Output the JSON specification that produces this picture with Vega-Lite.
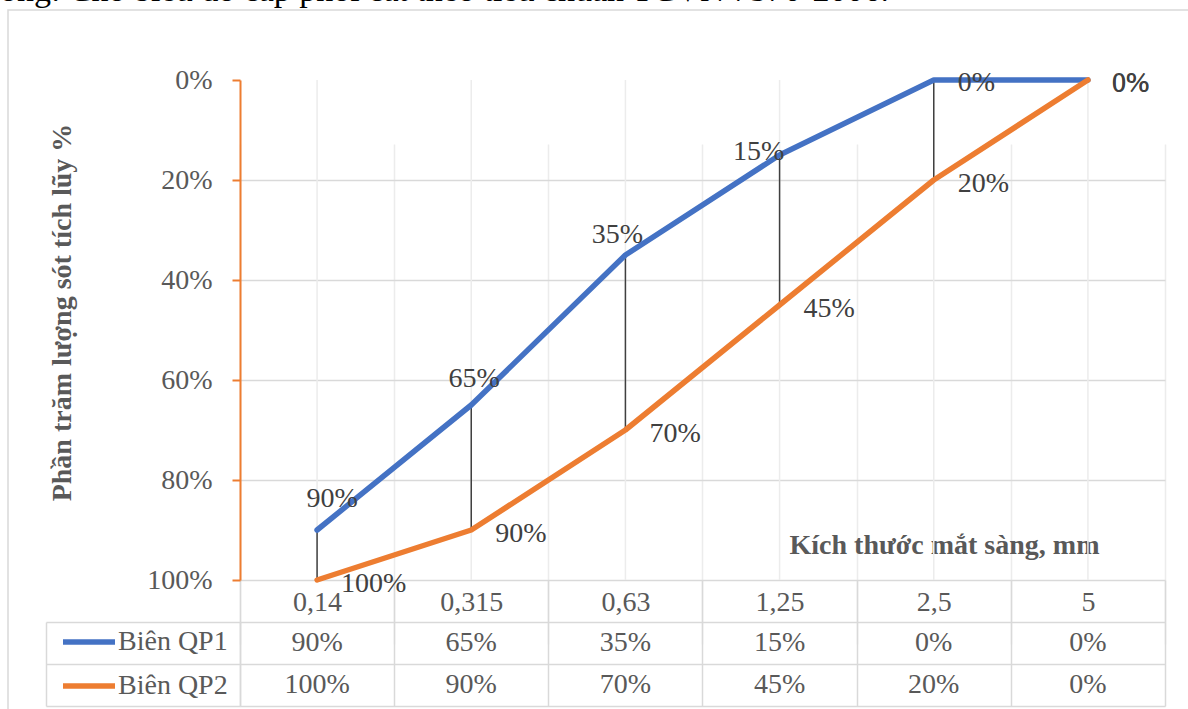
{
  "$schema": "https://vega.github.io/schema/vega-lite/v6.json",
  "width": 1185,
  "height": 704,
  "autosize": "none",
  "padding": {"left": 8, "top": 10, "right": -5, "bottom": -5},
  "background": "white",
  "config": {"font": "Liberation Serif", "view": {"stroke": "#d9d9d9", "strokeWidth": 1.5}},
  "title": {"text": "ong: Cho biểu đồ cấp phối cát theo tiêu chuẩn TCVN 7570-2006.", "anchor": "start", "frame": "group", "orient": "top", "baseline": "alphabetic", "offset": 0, "dy": 25, "dx": -8, "fontSize": 34, "fontWeight": "normal", "color": "#000000", "font": "Liberation Serif"},
  "data": {"values": [
    {"size": "0,14", "Biên QP1": 0.9, "Biên QP2": 1.0},
    {"size": "0,315", "Biên QP1": 0.65, "Biên QP2": 0.9},
    {"size": "0,63", "Biên QP1": 0.35, "Biên QP2": 0.7},
    {"size": "1,25", "Biên QP1": 0.15, "Biên QP2": 0.45},
    {"size": "2,5", "Biên QP1": 0.0, "Biên QP2": 0.2},
    {"size": "5", "Biên QP1": 0.0, "Biên QP2": 0.0}
  ]},
  "layer": [
    {
      "layer": [
        {
          "transform": [{"fold": ["Biên QP1", "Biên QP2"], "as": ["series", "value"]}],
          "mark": {"type": "line", "strokeWidth": 5.5, "strokeCap": "round", "strokeJoin": "round", "opacity": 0},
          "encoding": {
            "x": {"field": "size", "type": "ordinal", "sort": null, "bandPosition": 0.5, "scale": {"type": "band", "domain": ["0,14", "0,315", "0,63", "1,25", "2,5", "5"], "range": [232, 1157], "paddingInner": 0, "paddingOuter": 0},
              "axis": {"orient": "bottom", "offset": -134, "tickBand": "extent", "tickSize": 126, "tickColor": "#d9d9d9", "tickWidth": 1.5, "domainColor": "#d9d9d9", "domainWidth": 1.5, "grid": true, "gridColor": "#ececec", "gridWidth": 1.5, "labelAngle": 0, "labelFontSize": 28, "labelColor": "#595959", "labelBaseline": "alphabetic", "labelPadding": -96, "title": "Kích thước mắt sàng, mm", "titleFontSize": 28, "titleFontWeight": "bold", "titleColor": "#595959", "titleX": 936, "titleY": -27, "titleAlign": "center", "titleBaseline": "alphabetic"}},
            "y": {"field": "value", "type": "quantitative", "scale": {"domain": [0, 1], "range": [70, 570], "nice": false},
              "axis": {"orient": "left", "offset": -232, "values": [0, 0.2, 0.4, 0.6, 0.8, 1], "format": ".0%", "labelFontSize": 28, "labelColor": "#595959", "labelPadding": 20, "tickSize": 8, "tickColor": "#ED7D31", "tickWidth": 2, "domainColor": "#ED7D31", "domainWidth": 2, "grid": true, "gridColor": "#d9d9d9", "gridWidth": 1.5, "gridOpacity": {"condition": {"test": "datum.value <= 0 || datum.value >= 1", "value": 0}, "value": 1}, "title": "Phần trăm lượng sót tích lũy %", "titleFontSize": 28, "titleFontWeight": "bold", "titleColor": "#595959", "titleX": -178, "titleY": 302, "titleAngle": 270, "titleAlign": "center", "titleBaseline": "middle", "encode": {"ticks": {"update": {"x": {"value": 9}}}}}}
          }
        },
        {
          "mark": {"type": "rule", "color": "#ececec", "strokeWidth": 1.5},
          "encoding": {
            "x": {"field": "size", "type": "ordinal", "sort": null, "bandPosition": 0.5, "scale": {"type": "band", "domain": ["0,14", "0,315", "0,63", "1,25", "2,5", "5"], "range": [232, 1157], "paddingInner": 0, "paddingOuter": 0}},
            "y": {"datum": 0, "type": "quantitative", "scale": {"domain": [0, 1], "range": [70, 570], "nice": false}},
            "y2": {"datum": 1}
          }
        },
        {
          "mark": {"type": "rule", "color": "#404040", "strokeWidth": 1.5},
          "encoding": {
            "x": {"field": "size", "type": "ordinal", "sort": null, "bandPosition": 0.5, "scale": {"type": "band", "domain": ["0,14", "0,315", "0,63", "1,25", "2,5", "5"], "range": [232, 1157], "paddingInner": 0, "paddingOuter": 0}},
            "y": {"field": "Biên QP1", "type": "quantitative", "scale": {"domain": [0, 1], "range": [70, 570], "nice": false}},
            "y2": {"field": "Biên QP2"}
          }
        },
        {
          "transform": [{"fold": ["Biên QP1", "Biên QP2"], "as": ["series", "value"]}],
          "mark": {"type": "line", "strokeWidth": 5.5, "strokeCap": "round", "strokeJoin": "round"},
          "encoding": {
            "x": {"field": "size", "type": "ordinal", "sort": null, "bandPosition": 0.5, "scale": {"type": "band", "domain": ["0,14", "0,315", "0,63", "1,25", "2,5", "5"], "range": [232, 1157], "paddingInner": 0, "paddingOuter": 0}},
            "y": {"field": "value", "type": "quantitative", "scale": {"domain": [0, 1], "range": [70, 570], "nice": false}},
            "color": {"field": "series", "type": "nominal", "scale": {"domain": ["Biên QP1", "Biên QP2"], "range": ["#4472C4", "#ED7D31"]},
              "legend": {"orient": "none", "legendX": 52, "legendY": 603, "direction": "vertical", "title": null, "symbolType": "stroke", "symbolStrokeWidth": 5.5, "symbolSize": 2704, "labelFontSize": 28, "labelColor": "#595959", "labelOffset": 0, "rowPadding": 1, "padding": 0, "labelFont": "Liberation Serif"}}
          }
        },
        {
          "transform": [{"filter": "datum.size == '0,14'"}],
          "mark": {"type": "text", "align": "center", "baseline": "alphabetic", "dx": 15, "dy": -23, "fontSize": 28, "color": "#404040"},
          "encoding": {
            "x": {"field": "size", "type": "ordinal", "sort": null, "bandPosition": 0.5, "scale": {"type": "band", "domain": ["0,14", "0,315", "0,63", "1,25", "2,5", "5"], "range": [232, 1157], "paddingInner": 0, "paddingOuter": 0}},
            "y": {"field": "Biên QP1", "type": "quantitative", "scale": {"domain": [0, 1], "range": [70, 570], "nice": false}},
            "text": {"field": "Biên QP1", "type": "quantitative", "format": ".0%"}
          }
        },
        {
          "transform": [{"filter": "datum.size == '0,315'"}],
          "mark": {"type": "text", "align": "center", "baseline": "alphabetic", "dx": 3, "dy": -18, "fontSize": 28, "color": "#404040"},
          "encoding": {
            "x": {"field": "size", "type": "ordinal", "sort": null, "bandPosition": 0.5, "scale": {"type": "band", "domain": ["0,14", "0,315", "0,63", "1,25", "2,5", "5"], "range": [232, 1157], "paddingInner": 0, "paddingOuter": 0}},
            "y": {"field": "Biên QP1", "type": "quantitative", "scale": {"domain": [0, 1], "range": [70, 570], "nice": false}},
            "text": {"field": "Biên QP1", "type": "quantitative", "format": ".0%"}
          }
        },
        {
          "transform": [{"filter": "datum.size == '0,63'"}],
          "mark": {"type": "text", "align": "center", "baseline": "alphabetic", "dx": -8, "dy": -12, "fontSize": 28, "color": "#404040"},
          "encoding": {
            "x": {"field": "size", "type": "ordinal", "sort": null, "bandPosition": 0.5, "scale": {"type": "band", "domain": ["0,14", "0,315", "0,63", "1,25", "2,5", "5"], "range": [232, 1157], "paddingInner": 0, "paddingOuter": 0}},
            "y": {"field": "Biên QP1", "type": "quantitative", "scale": {"domain": [0, 1], "range": [70, 570], "nice": false}},
            "text": {"field": "Biên QP1", "type": "quantitative", "format": ".0%"}
          }
        },
        {
          "transform": [{"filter": "datum.size == '1,25'"}],
          "mark": {"type": "text", "align": "center", "baseline": "alphabetic", "dx": -21, "dy": 5, "fontSize": 28, "color": "#404040"},
          "encoding": {
            "x": {"field": "size", "type": "ordinal", "sort": null, "bandPosition": 0.5, "scale": {"type": "band", "domain": ["0,14", "0,315", "0,63", "1,25", "2,5", "5"], "range": [232, 1157], "paddingInner": 0, "paddingOuter": 0}},
            "y": {"field": "Biên QP1", "type": "quantitative", "scale": {"domain": [0, 1], "range": [70, 570], "nice": false}},
            "text": {"field": "Biên QP1", "type": "quantitative", "format": ".0%"}
          }
        },
        {
          "transform": [{"filter": "datum.size == '2,5' || datum.size == '5'"}],
          "mark": {"type": "text", "align": "left", "baseline": "alphabetic", "dx": 24, "dy": 11, "fontSize": 28, "color": "#404040"},
          "encoding": {
            "x": {"field": "size", "type": "ordinal", "sort": null, "bandPosition": 0.5, "scale": {"type": "band", "domain": ["0,14", "0,315", "0,63", "1,25", "2,5", "5"], "range": [232, 1157], "paddingInner": 0, "paddingOuter": 0}},
            "y": {"field": "Biên QP1", "type": "quantitative", "scale": {"domain": [0, 1], "range": [70, 570], "nice": false}},
            "text": {"field": "Biên QP1", "type": "quantitative", "format": ".0%"}
          }
        },
        {
          "mark": {"type": "text", "align": "left", "baseline": "alphabetic", "dx": 24, "dy": 12, "fontSize": 28, "color": "#404040"},
          "encoding": {
            "x": {"field": "size", "type": "ordinal", "sort": null, "bandPosition": 0.5, "scale": {"type": "band", "domain": ["0,14", "0,315", "0,63", "1,25", "2,5", "5"], "range": [232, 1157], "paddingInner": 0, "paddingOuter": 0}},
            "y": {"field": "Biên QP2", "type": "quantitative", "scale": {"domain": [0, 1], "range": [70, 570], "nice": false}},
            "text": {"field": "Biên QP2", "type": "quantitative", "format": ".0%"}
          }
        }
      ]
    },
    {
      "transform": [{"fold": ["Biên QP1", "Biên QP2"], "as": ["series", "value"]}],
      "mark": {"type": "text", "fontSize": 28, "color": "#595959", "baseline": "middle", "align": "center"},
      "encoding": {
        "x": {"field": "size", "type": "ordinal", "sort": null, "bandPosition": 0.5, "scale": {"type": "band", "domain": ["0,14", "0,315", "0,63", "1,25", "2,5", "5"], "range": [232, 1157], "paddingInner": 0, "paddingOuter": 0}},
        "y": {"field": "series", "type": "nominal", "sort": null, "bandPosition": 0.5, "scale": {"type": "band", "domain": ["Biên QP1", "Biên QP2"], "range": [612, 696], "paddingInner": 0, "paddingOuter": 0},
          "axis": {"orient": "left", "offset": -232, "tickBand": "extent", "tickSize": 194, "tickColor": "#d9d9d9", "tickWidth": 1.5, "domainColor": "#d9d9d9", "domainWidth": 1.5, "labels": false, "title": null, "grid": true, "gridColor": "#d9d9d9", "gridWidth": 1.5}},
        "text": {"field": "value", "type": "quantitative", "format": ".0%"}
      }
    },
    {
      "transform": [{"fold": ["Biên QP1", "Biên QP2"], "as": ["series", "value"]}],
      "mark": {"type": "point", "opacity": 0},
      "encoding": {
        "x": {"field": "size", "type": "ordinal", "sort": null, "bandPosition": 0.5, "scale": {"type": "band", "domain": ["0,14", "0,315", "0,63", "1,25", "2,5", "5"], "range": [232, 1157], "paddingInner": 0, "paddingOuter": 0}},
        "y": {"field": "series", "type": "nominal", "sort": null, "bandPosition": 0.5, "scale": {"type": "band", "domain": ["Biên QP1", "Biên QP2"], "range": [612, 696], "paddingInner": 0, "paddingOuter": 0},
          "axis": {"orient": "left", "offset": -38, "ticks": false, "labels": false, "grid": false, "title": null, "domainColor": "#d9d9d9", "domainWidth": 1.5}}
      }
    }
  ],
  "resolve": {"scale": {"y": "independent"}}
}
